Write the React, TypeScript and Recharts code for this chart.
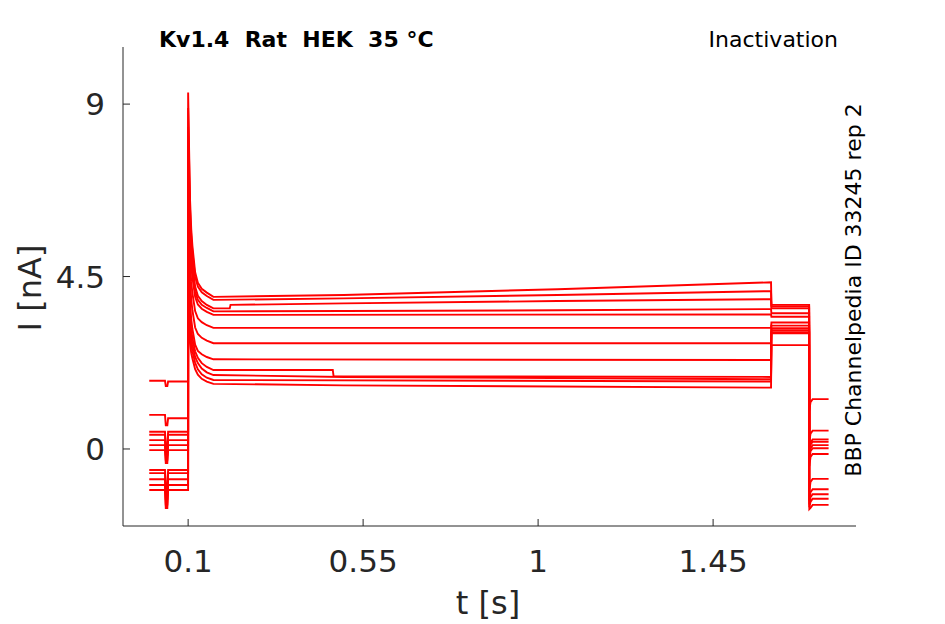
import React from "react";
import { LineChart, Line, XAxis, YAxis } from "recharts";

// ---- tick labels / axes ----
const xTicks = [0.1, 0.55, 1, 1.45];
const yTicks = [0, 4.5, 9];
const xDomain = [-0.0675, 1.8175];
const yDomain = [-2.01, 10.49];

// ---- pre-pulse segment (t = 0 .. 0.1) ----
const preStart = [1.78, 0.89, 0.45, 0.37, 0.23, 0.1, -0.03, -0.55, -0.63, -0.79, -0.94, -1.07];
const preEnd = [1.76, 0.8, 0.45, 0.37, 0.23, 0.1, -0.03, -0.55, -0.63, -0.79, -0.94, -1.07];
const preDip = [1.64, 0.62, 0.05, -0.05, -0.15, -0.28, -0.37, -1.0, -1.15, -1.3, -1.45, -1.54];

// ---- peak at t = 0.1 and decay ----
const peak = [9.3, 8.9, 8.4, 7.9, 7.4, 6.8, 6.2, 5.5, 4.9, 4.5, 4.1, 3.7];
const decayTimes = [0.1025, 0.105, 0.108, 0.111, 0.118, 0.125, 0.135, 0.148];
const decayValues = [
  [7.81, 6.48, 5.73, 5.3, 4.61, 4.34, 4.18, 4.08],
  [7.5, 6.24, 5.54, 5.14, 4.49, 4.24, 4.09, 3.99],
  [7.08, 5.89, 5.23, 4.85, 4.24, 4.0, 3.86, 3.76],
  [6.69, 5.62, 5.01, 4.67, 4.11, 3.89, 3.76, 3.68],
  [6.31, 5.33, 4.79, 4.48, 3.97, 3.77, 3.66, 3.58],
  [5.78, 4.87, 4.36, 4.07, 3.6, 3.41, 3.31, 3.23],
  [5.24, 4.38, 3.9, 3.62, 3.17, 3.0, 2.9, 2.83],
  [4.62, 3.83, 3.38, 3.13, 2.72, 2.56, 2.47, 2.4],
  [4.1, 3.45, 3.1, 2.9, 2.55, 2.38, 2.24, 2.14],
  [3.8, 3.25, 2.92, 2.72, 2.4, 2.24, 2.1, 2.0],
  [3.5, 3.0, 2.72, 2.55, 2.25, 2.08, 1.95, 1.86],
  [3.2, 2.75, 2.5, 2.36, 2.08, 1.94, 1.83, 1.76],
];

// ---- test pulse plateau: [t, I] ----
const plateau = [
  [[0.165, 3.97], [0.5, 4.02], [1.05, 4.17], [1.599, 4.35]],
  [[0.165, 3.89], [0.5, 3.93], [1.05, 4.02], [1.599, 4.12]],
  [[0.165, 3.67], [0.207, 3.67], [0.209, 3.76], [0.5, 3.8], [1.05, 3.86], [1.599, 3.91]],
  [[0.165, 3.59], [0.5, 3.6], [1.05, 3.62], [1.599, 3.65]],
  [[0.165, 3.5], [1.599, 3.51]],
  [[0.165, 3.16], [1.599, 3.16]],
  [[0.165, 2.76], [1.599, 2.76]],
  [[0.165, 2.34], [1.599, 2.32]],
  [[0.165, 2.06], [0.472, 2.06], [0.474, 1.9], [1.599, 1.88]],
  [[0.165, 1.93], [0.5, 1.88], [1.599, 1.82]],
  [[0.165, 1.8], [1.599, 1.76]],
  [[0.165, 1.7], [0.5, 1.66], [1.599, 1.6]],
];

// ---- second step (t = 1.6 .. 1.697) ----
const stepLevel = [3.76, 3.72, 3.67, 3.54, 3.45, 3.3, 3.22, 3.15, 3.1, 3.05, 3.02, 2.71];

// ---- tail (t = 1.697 .. 1.747) ----
const spikeMin = [1.0, 0.2, 0.0, -0.1, -0.2, -0.3, -0.45, -1.1, -1.35, -1.45, -1.52, -1.57];
const tailStart = [1.22, 0.4, 0.17, 0.11, 0.02, -0.06, -0.21, -0.86, -1.13, -1.26, -1.38, -1.54];
const tailLevel = [1.3, 0.48, 0.25, 0.19, 0.1, 0.02, -0.13, -0.78, -1.05, -1.18, -1.3, -1.46];

type Pt = { t: number; v: number };

function buildTrace(i: number): Pt[] {
  const pts: Pt[] = [];
  pts.push({ t: 0, v: preStart[i] });
  pts.push({ t: 0.0405, v: preStart[i] });
  pts.push({ t: 0.0425, v: preDip[i] });
  pts.push({ t: 0.0465, v: preDip[i] });
  pts.push({ t: 0.0485, v: preEnd[i] });
  pts.push({ t: 0.0999, v: preEnd[i] });
  pts.push({ t: 0.1, v: peak[i] });
  decayTimes.forEach((t, k) => pts.push({ t, v: decayValues[i][k] }));
  plateau[i].forEach(([t, v]) => pts.push({ t, v }));
  pts.push({ t: 1.6, v: stepLevel[i] });
  pts.push({ t: 1.697, v: stepLevel[i] });
  pts.push({ t: 1.6975, v: spikeMin[i] });
  pts.push({ t: 1.7005, v: tailStart[i] });
  pts.push({ t: 1.706, v: tailLevel[i] });
  pts.push({ t: 1.747, v: tailLevel[i] });
  return pts;
}

const traces = peak.map((_, i) => buildTrace(i));

const AXIS = "#262626";
const FONT = "'DejaVu Sans', sans-serif";

const XTick = (props: any) => {
  const { x, y, payload } = props;
  return (
    <g>
      <line x1={x} x2={x} y1={y} y2={y - 7} stroke={AXIS} strokeWidth={1} />
      <text x={x} y={y + 46} textAnchor="middle" fontSize={31} fill={AXIS} fontFamily={FONT}>
        {payload.value}
      </text>
    </g>
  );
};

const YTick = (props: any) => {
  const { x, y, payload } = props;
  return (
    <g>
      <line x1={x} x2={x + 7} y1={y} y2={y} stroke={AXIS} strokeWidth={1} />
      <text x={x - 18} y={y + 11} textAnchor="end" fontSize={31} fill={AXIS} fontFamily={FONT}>
        {payload.value}
      </text>
    </g>
  );
};

export default function App() {
  return (
    <div style={{ position: "absolute", left: 0, top: 0, width: 945, height: 624, background: "#fff" }}>
      <LineChart width={945} height={624} margin={{ top: 47, right: 89, bottom: 38, left: 63 }}>
        <XAxis
          type="number"
          dataKey="t"
          domain={xDomain}
          allowDataOverflow
          ticks={xTicks}
          interval={0}
          height={60}
          tickSize={0}
          tickMargin={0}
          tickLine={false}
          axisLine={{ stroke: AXIS, strokeWidth: 1 }}
          tick={<XTick />}
        />
        <YAxis
          type="number"
          domain={yDomain}
          allowDataOverflow
          ticks={yTicks}
          interval={0}
          width={60}
          tickSize={0}
          tickMargin={0}
          tickLine={false}
          axisLine={{ stroke: AXIS, strokeWidth: 1 }}
          tick={<YTick />}
        />
        {traces.map((d, i) => (
          <Line
            key={i}
            data={d}
            dataKey="v"
            type="linear"
            stroke="#ff0000"
            strokeWidth={1.9}
            dot={false}
            activeDot={false}
            isAnimationActive={false}
          />
        ))}
      </LineChart>
      <svg
        width={945}
        height={624}
        style={{ position: "absolute", left: 0, top: 0, pointerEvents: "none" }}
        fontFamily={FONT}
      >
        <text x={159} y={47} fontSize={22} fontWeight="bold" fill="#000" style={{ whiteSpace: "pre" }}>
          {"Kv1.4  Rat  HEK  35 °C"}
        </text>
        <text x={838} y={47} fontSize={22} textAnchor="end" fill="#000">
          Inactivation
        </text>
        <text x={488} y={614} fontSize={32} textAnchor="middle" fill={AXIS}>
          t [s]
        </text>
        <text x={41} y={288} fontSize={32} textAnchor="middle" fill={AXIS} transform="rotate(-90 41 288)">
          I [nA]
        </text>
        <text x={861} y={290} fontSize={22} textAnchor="middle" fill="#000" transform="rotate(-90 861 290)">
          BBP Channelpedia ID 33245 rep 2
        </text>
      </svg>
    </div>
  );
}
